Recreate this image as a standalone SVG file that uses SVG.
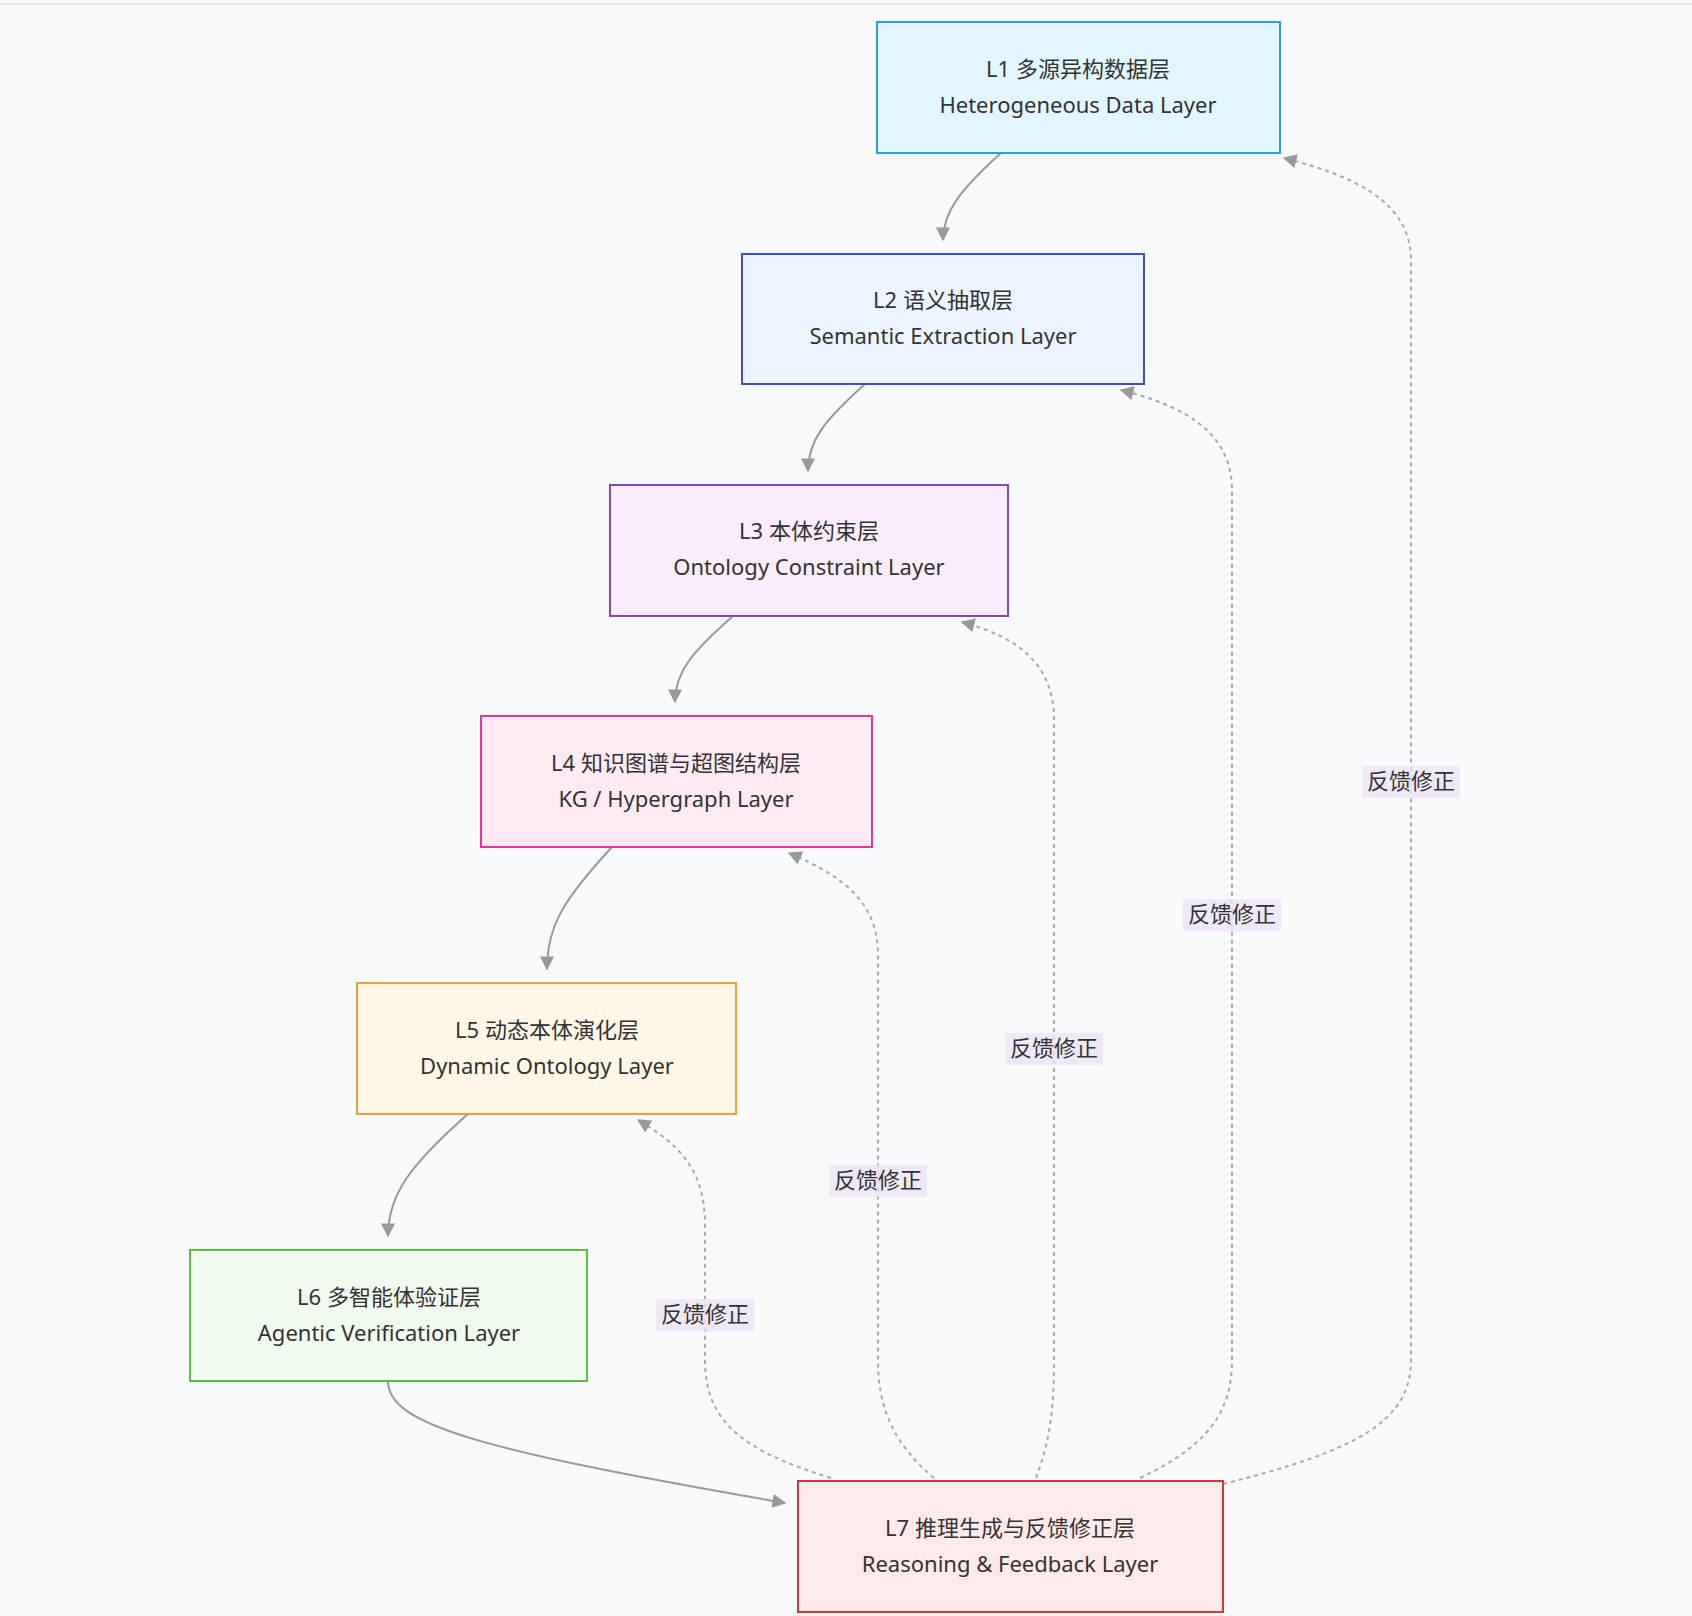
<svg xmlns="http://www.w3.org/2000/svg" width="1692" height="1616" viewBox="0 0 1692 1616">
<style>
.n rect{stroke-width:2}
.n text{font-family:"Noto Sans","DejaVu Sans","Noto Sans CJK SC",sans-serif;font-size:22px;fill:#333;text-anchor:middle}
.e{fill:none;stroke:#999;stroke-width:2}
.d{fill:none;stroke:#aaa;stroke-width:2;stroke-dasharray:4 4}
.lb rect{fill:#ece4f5;opacity:0.8}
.lb text{font-family:"Noto Sans","Noto Sans CJK SC",sans-serif;font-size:22px;fill:#333;text-anchor:middle}
</style>
<defs>
<marker id="a" viewBox="0 0 10 10" refX="9" refY="5" markerWidth="8" markerHeight="8" orient="auto-start-reverse" markerUnits="userSpaceOnUse"><path d="M0,0L10,5L0,10z" fill="#999"/></marker>
<marker id="ah" viewBox="0 0 10 10" refX="9" refY="5" markerWidth="14" markerHeight="14" orient="auto" markerUnits="userSpaceOnUse"><path d="M0,0L10,5L0,10z" fill="#999"/></marker>
</defs>
<rect width="1692" height="1616" fill="#f8f9fb"/>
<line x1="0" y1="4" x2="1692" y2="4" stroke="#e4e4e4" stroke-width="2"/>
<g id="edges">
<path class="e" d="M1001,153 C960,190 943,212 943,240" marker-end="url(#ah)"/>
<path class="e" d="M865,384 C825,420 808,440 808,471" marker-end="url(#ah)"/>
<path class="e" d="M733,616 C692,652 675,672 675,702" marker-end="url(#ah)"/>
<path class="e" d="M612,847 C565,898 547,925 547,969" marker-end="url(#ah)"/>
<path class="e" d="M468,1114 C410,1165 388,1195 388,1236" marker-end="url(#ah)"/>
<path class="e" d="M388,1381 C388,1425 480,1450 785,1503" marker-end="url(#ah)"/>
<path class="d" d="M1223,1484 C1360,1450 1411,1420 1411,1360 L1411,260 C1411,200 1350,175 1284,158" marker-end="url(#ah)"/>
<path class="d" d="M1140,1478 C1210,1445 1232,1410 1232,1360 L1232,490 C1232,430 1180,405 1121,390" marker-end="url(#ah)"/>
<path class="d" d="M1036,1478 C1050,1440 1054,1410 1054,1360 L1054,720 C1054,665 1020,638 962,622" marker-end="url(#ah)"/>
<path class="d" d="M934,1478 C895,1445 878,1410 878,1360 L878,955 C878,900 840,875 789,853" marker-end="url(#ah)"/>
<path class="d" d="M831,1478 C740,1450 705,1420 705,1360 L705,1225 C705,1170 680,1145 638,1120" marker-end="url(#ah)"/>
</g>
<g id="labels">
<g class="lb"><rect x="1362" y="766" width="98" height="32"/><text x="1411" y="789">反馈修正</text></g>
<g class="lb"><rect x="1183" y="899" width="98" height="32"/><text x="1232" y="922">反馈修正</text></g>
<g class="lb"><rect x="1005" y="1033" width="98" height="32"/><text x="1054" y="1056">反馈修正</text></g>
<g class="lb"><rect x="829" y="1165" width="98" height="32"/><text x="878" y="1188">反馈修正</text></g>
<g class="lb"><rect x="656" y="1299" width="98" height="32"/><text x="705" y="1322">反馈修正</text></g>
</g>
<g id="L1" class="n"><rect x="877" y="22" width="403" height="131" fill="#e1f6fe" stroke="#2b9ee6"/><text x="1078" y="77">L1 多源异构数据层</text><text x="1078" y="113">Heterogeneous Data Layer</text></g>
<g id="L2" class="n"><rect x="742" y="254" width="402" height="130" fill="#ecf4ff" stroke="#3f4fc4"/><text x="943" y="308">L2 语义抽取层</text><text x="943" y="344">Semantic Extraction Layer</text></g>
<g id="L3" class="n"><rect x="610" y="485" width="398" height="131" fill="#f9ecfb" stroke="#8446c2"/><text x="809" y="539">L3 本体约束层</text><text x="809" y="575">Ontology Constraint Layer</text></g>
<g id="L4" class="n"><rect x="481" y="716" width="391" height="131" fill="#fdeaf4" stroke="#e4359a"/><text x="676" y="771">L4 知识图谱与超图结构层</text><text x="676" y="807">KG / Hypergraph Layer</text></g>
<g id="L5" class="n"><rect x="357" y="983" width="379" height="131" fill="#fef7e6" stroke="#ee9d3c"/><text x="547" y="1038">L5 动态本体演化层</text><text x="547" y="1074">Dynamic Ontology Layer</text></g>
<g id="L6" class="n"><rect x="190" y="1250" width="397" height="131" fill="#f1faee" stroke="#5cbd42"/><text x="389" y="1305">L6 多智能体验证层</text><text x="389" y="1341">Agentic Verification Layer</text></g>
<g id="L7" class="n"><rect x="798" y="1481" width="425" height="131" fill="#feeaea" stroke="#d7323c"/><text x="1010" y="1536">L7 推理生成与反馈修正层</text><text x="1010" y="1572">Reasoning &amp; Feedback Layer</text></g>
</svg>
